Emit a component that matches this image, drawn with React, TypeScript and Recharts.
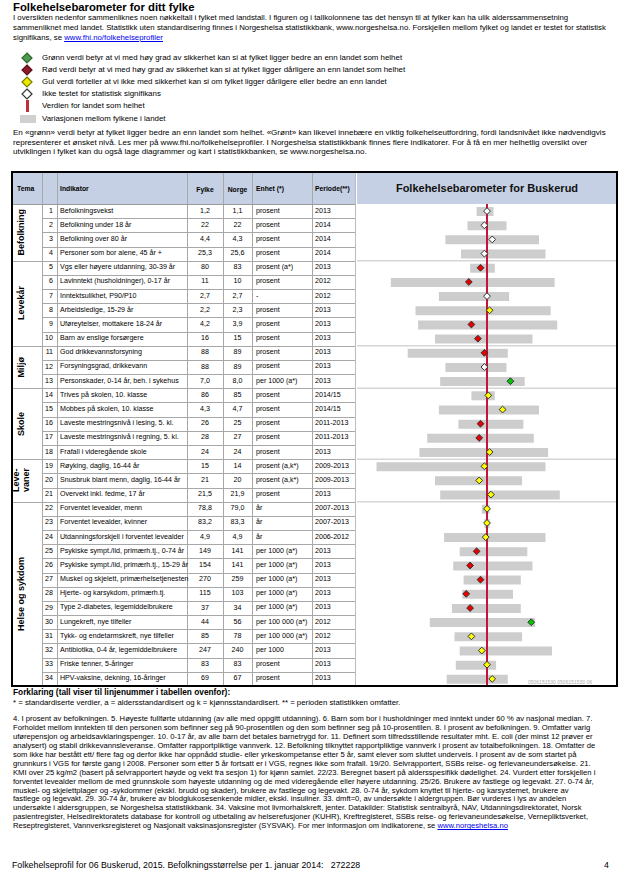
import React from "react";
import {
  ComposedChart,
  Bar,
  Line,
  XAxis,
  YAxis,
  ReferenceLine
} from "recharts";

// Table content
const indicators = [
  "Befolkningsvekst",
  "Befolkning under 18 år",
  "Befolkning over 80 år",
  "Personer som bor alene, 45 år +",
  "Vgs eller høyere utdanning, 30-39 år",
  "Lavinntekt (husholdninger), 0-17 år",
  "Inntektsulikhet, P90/P10",
  "Arbeidsledige, 15-29 år",
  "Uføreytelser, mottakere 18-24 år",
  "Barn av enslige forsørgere",
  "God drikkevannsforsyning",
  "Forsyningsgrad, drikkevann",
  "Personskader, 0-14 år, beh. i sykehus",
  "Trives på skolen, 10. klasse",
  "Mobbes på skolen, 10. klasse",
  "Laveste mestringsnivå i lesing, 5. kl.",
  "Laveste mestringsnivå i regning, 5. kl.",
  "Frafall i videregående skole",
  "Røyking, daglig, 16-44 år",
  "Snusbruk blant menn, daglig, 16-44 år",
  "Overvekt inkl. fedme, 17 år",
  "Forventet levealder, menn",
  "Forventet levealder, kvinner",
  "Utdanningsforskjell i forventet levealder",
  "Psykiske sympt./lid, primærh.tj., 0-74 år",
  "Psykiske sympt./lid, primærh.tj., 15-29 år",
  "Muskel og skjelett, primærhelsetjenesten",
  "Hjerte- og karsykdom, primærh.tj.",
  "Type 2-diabetes, legemiddelbrukere",
  "Lungekreft, nye tilfeller",
  "Tykk- og endetarmskreft, nye tilfeller",
  "Antibiotika, 0-4 år, legemiddelbrukere",
  "Friske tenner, 5-åringer",
  "HPV-vaksine, dekning, 16-åringer"
];

const fylkeValues = [
  "1,2", "22", "4,4", "25,3", "80", "11", "2,7", "2,2", "4,2", "16", "88", "88",
  "7,0", "86", "4,3", "26", "28", "24", "15", "21", "21,5", "78,8", "83,2", "4,9",
  "149", "154", "270", "115", "37", "44", "85", "247", "83", "69"
];

const norgeValues = [
  "1,1", "22", "4,3", "25,6", "83", "10", "2,7", "2,3", "3,9", "15", "89", "89",
  "8,0", "85", "4,7", "25", "27", "24", "14", "20", "21,9", "79,0", "83,3", "4,9",
  "141", "141", "259", "103", "34", "56", "78", "240", "83", "67"
];

const units = [
  "prosent", "prosent", "prosent", "prosent", "prosent (a*)", "prosent", "-",
  "prosent", "prosent", "prosent", "prosent", "prosent", "per 1000 (a*)",
  "prosent", "prosent", "prosent", "prosent", "prosent", "prosent (a,k*)",
  "prosent (a,k*)", "prosent", "år", "år", "år", "per 1000 (a*)",
  "per 1000 (a*)", "per 1000 (a*)", "per 1000 (a*)", "per 1000 (a*)",
  "per 100 000 (a*)", "per 100 000 (a*)", "per 1000", "prosent", "prosent"
];

const periods = [
  "2013", "2014", "2014", "2014", "2013", "2012", "2012", "2013", "2013", "2013",
  "2013", "2013", "2013", "2014/15", "2014/15", "2011-2013", "2011-2013", "2013",
  "2009-2013", "2009-2013", "2013", "2007-2013", "2007-2013", "2006-2012", "2013",
  "2013", "2013", "2013", "2013", "2012", "2012", "2013", "2013", "2013"
];

const groups = [
  { label: "Befolkning", from: 1, to: 4 },
  { label: "Levekår", from: 5, to: 10 },
  { label: "Miljø", from: 11, to: 13 },
  { label: "Skole", from: 14, to: 18 },
  { label: "Leve-\nvaner", from: 19, to: 21 },
  { label: "Helse og sykdom", from: 22, to: 34 }
];

// Barometer (standardised scale, landet = 0)
const rangeLow = [
  -8, -15, -32, -20, -13, -74, -37, -55, -53, -40, -61, -32, -36, -12, -37, -22, -46,
  -52, -85, -40, -36, -4, -2, -33, -21, -26, -18, -19, -27, -44, -25, -21, -24, -31
];
const rangeHigh = [
  5, 15, 40, 45, 6, 52, 17, 49, 54, 35, 16, 15, 29, 6, 40, 28, 36,
  47, 45, 27, 56, 2, 2, 45, 31, 35, 26, 20, 26, 37, 27, 50, 7, 16
];
const fylkePos = [
  0, -2, 4, -2, -5, -14, 0, 2, -12, -7, -2, -2, 18, 1, 12, -5, -6,
  2, -2, -6, 3, 0, 0, -1, -8, -13, -5, -16, -13, 34, -12, -4, 0, 4
];
// g = bedre, r = dårligere, y = ikke signifikant, w = ikke testet
const markType = [
  "w", "w", "w", "w", "r", "r", "w", "y", "r", "r", "r", "w", "g", "y", "y", "r", "r",
  "y", "y", "y", "y", "y", "y", "y", "r", "r", "r", "r", "r", "g", "y", "y", "y", "y"
];

const markColors: Record<string, string> = {
  g: "#00c800",
  r: "#e80000",
  y: "#ffff00",
  w: "#ffffff"
};

const topText = [
  "I oversikten nedenfor sammenliknes noen nøkkeltall i fylket med landstall. I figuren og i tallkolonnene tas det hensyn til at fylker kan ha ulik alderssammensetning",
  "sammenliknet med landet. Statistikk uten standardisering finnes i Norgeshelsa statistikkbank, www.norgeshelsa.no. Forskjellen mellom fylket og landet er testet for statistisk"
];

const legendTexts = [
  "Grønn verdi betyr at vi med høy grad av sikkerhet kan si at fylket ligger bedre an enn landet som helhet",
  "Rød verdi betyr at vi med høy grad av sikkerhet kan si at fylket ligger dårligere an enn landet som helhet",
  "Gul verdi forteller at vi ikke med sikkerhet kan si om fylket ligger dårligere eller bedre an enn landet",
  "Ikke testet for statistisk signifikans",
  "Verdien for landet som helhet",
  "Variasjonen mellom fylkene i landet"
];

const introText = [
  "En «grønn» verdi betyr at fylket ligger bedre an enn landet som helhet. «Grønt» kan likevel innebære en viktig folkehelseutfordring, fordi landsnivået ikke nødvendigvis",
  "representerer et ønsket nivå. Les mer på www.fhi.no/folkehelseprofiler. I Norgeshelsa statistikkbank finnes flere indikatorer. For å få en mer helhetlig oversikt over",
  "utviklingen i fylket kan du også lage diagrammer og kart i statistikkbanken, se www.norgeshelsa.no."
];

const notesText = [
  "4. I prosent av befolkningen. 5. Høyeste fullførte utdanning (av alle med oppgitt utdanning). 6. Barn som bor i husholdninger med inntekt under 60 % av nasjonal median. 7.",
  "Forholdet mellom inntekten til den personen som befinner seg på 90-prosentilen og den som befinner seg på 10-prosentilen. 8. I prosent av befolkningen. 9. Omfatter varig",
  "uførepensjon og arbeidsavklaringspenger. 10. 0-17 år, av alle barn det betales barnetrygd for. 11. Definert som tilfredsstillende resultater mht. E. coli (der minst 12 prøver er",
  "analysert) og stabil drikkevannsleveranse. Omfatter rapportpliktige vannverk. 12. Befolkning tilknyttet rapportpliktige vannverk i prosent av totalbefolkningen. 18. Omfatter de",
  "som ikke har bestått ett/ flere fag og derfor ikke har oppnådd studie- eller yrkeskompetanse etter 5 år, samt elever som sluttet underveis. I prosent av de som startet på",
  "grunnkurs i VGS for første gang i 2008. Personer som etter 5 år fortsatt er i VGS, regnes ikke som frafall. 19/20. Selvrapportert, SSBs reise- og ferievaneundersøkelse. 21.",
  "KMI over 25 kg/m2 (basert på selvrapportert høyde og vekt fra sesjon 1) for kjønn samlet. 22/23. Beregnet basert på aldersspesifikk dødelighet. 24. Vurdert etter forskjellen i",
  "forventet levealder mellom de med grunnskole som høyeste utdanning og de med videregående eller høyere utdanning. 25/26. Brukere av fastlege og legevakt. 27. 0-74 år,",
  "muskel- og skjelettplager og -sykdommer (ekskl. brudd og skader), brukere av fastlege og legevakt. 28. 0-74 år, sykdom knyttet til hjerte- og karsystemet, brukere av",
  "fastlege og legevakt. 29. 30-74 år, brukere av blodglukosesenkende midler, ekskl. insuliner. 33. dmft=0, av undersøkte i aldergruppen. Bør vurderes i lys av andelen",
  "undersøkte i aldersgruppen, se Norgeshelsa statistikkbank. 34. Vaksine mot livmorhalskreft, jenter. Datakilder: Statistisk sentralbyrå, NAV, Utdanningsdirektoratet, Norsk",
  "pasientregister, Helsedirektoratets database for kontroll og utbetaling av helserefusjoner (KUHR), Kreftregisteret, SSBs reise- og ferievaneundesøkelse, Vernepliktsverket,"
];

const FONT = "'Liberation Sans', Arial, sans-serif";
const TABLE_TOP = 204;
const TABLE_BOTTOM = 686;
const ROW_H = (TABLE_BOTTOM - TABLE_TOP) / indicators.length;
const CHART_LEFT = 357;
const CHART_W = 260;
const ROW_FONT = 7.1;
const TEXT_FONT = 7.8;
const NOTE_FONT = 7.65;

const colLines = [42, 57, 187, 223, 252, 312, 355];

const chartData = indicators.map((_, i) => ({
  nr: String(i + 1),
  range: [rangeLow[i], rangeHigh[i]],
  fylke: fylkePos[i],
  mark: markType[i]
}));

function Txt({ x, y, size, bold, children, color }: any) {
  return (
    <div
      style={{
        position: "absolute",
        left: x,
        top: y - size / 2,
        fontSize: size,
        lineHeight: `${size}px`,
        fontWeight: bold ? "bold" : "normal",
        whiteSpace: "nowrap",
        color: color || "#000"
      }}>
      {children}
    </div>
  );
}

function Diamond({ x, y, r, fill, stroke }: any) {
  return (
    <svg
      width={r * 2 + 2}
      height={r * 2 + 2}
      style={{ position: "absolute", left: x - r - 1, top: y - r - 1 }}>
      <polygon
        points={`${r + 1},1 ${2 * r + 1},${r + 1} ${r + 1},${2 * r + 1} 1,${r + 1}`}
        fill={fill}
        stroke={stroke}
        strokeWidth={1.2}
      />
    </svg>
  );
}

const renderMarker = (props: any) => {
  const { cx, cy, index, payload } = props;
  if (cx == null || cy == null) return <g key={`m-${index}`} />;
  const r = 3.4;
  return (
    <polygon
      key={`m-${index}`}
      points={`${cx},${cy - r} ${cx + r},${cy} ${cx},${cy + r} ${cx - r},${cy}`}
      fill={markColors[payload.mark]}
      stroke="#333"
      strokeWidth={1}
    />
  );
};

export default function App() {
  const legendY = [57.5, 69.8, 82, 94.2, 106.4, 118.6];
  return (
    <div
      style={{
        position: "relative",
        width: 625,
        height: 881,
        background: "#fff",
        fontFamily: FONT,
        overflow: "hidden"
      }}>
      <style>{`body{margin:0}`}</style>

      <Txt x={13} y={8} size={11.3} bold>
        Folkehelsebarometer for ditt fylke
      </Txt>
      {topText.map((t, i) => (
        <Txt key={i} x={13} y={17.5 + i * 10} size={TEXT_FONT}>
          {t}
        </Txt>
      ))}
      <Txt x={13} y={37.5} size={TEXT_FONT}>
        signifikans, se{" "}
        <span style={{ color: "#0000ee", textDecoration: "underline" }}>
          www.fhi.no/folkehelseprofiler
        </span>
      </Txt>

      {/* legend */}
      <Diamond x={27} y={legendY[0]} r={5} fill="#4f9a4f" stroke="#2d6a2d" />
      <Diamond x={27} y={legendY[1]} r={5} fill="#8e1b2c" stroke="#5a0f1a" />
      <Diamond x={27} y={legendY[2]} r={5} fill="#eaea00" stroke="#7a7a00" />
      <Diamond x={27} y={legendY[3]} r={5} fill="#ffffff" stroke="#333" />
      <div
        style={{
          position: "absolute",
          left: 26,
          top: legendY[4] - 6,
          width: 2.5,
          height: 12,
          background: "#c0303a"
        }}
      />
      <div
        style={{
          position: "absolute",
          left: 20,
          top: legendY[5] - 4,
          width: 16,
          height: 8,
          background: "#d0d0d0"
        }}
      />
      {legendTexts.map((t, i) => (
        <Txt key={i} x={42} y={legendY[i]} size={7.9}>
          {t}
        </Txt>
      ))}

      {introText.map((t, i) => (
        <Txt key={i} x={13} y={133.5 + i * 9.3} size={8.05}>
          {t}
        </Txt>
      ))}

      {/* table header */}
      <div
        style={{
          position: "absolute",
          left: 12,
          top: 172,
          width: 343,
          height: 32,
          background: "#c5d0e4"
        }}
      />
      <div
        style={{
          position: "absolute",
          left: CHART_LEFT,
          top: 172,
          width: CHART_W,
          height: 32,
          background: "#c5d0e4"
        }}
      />
      <Txt x={17} y={189} size={6.8} bold>Tema</Txt>
      <Txt x={60} y={189} size={6.8} bold>Indikator</Txt>
      <div style={{ position: "absolute", left: 187, width: 36, top: 185.5, fontSize: 6.8, lineHeight: "7px", fontWeight: "bold", textAlign: "center" }}>Fylke</div>
      <div style={{ position: "absolute", left: 223, width: 29, top: 185.5, fontSize: 6.8, lineHeight: "7px", fontWeight: "bold", textAlign: "center" }}>Norge</div>
      <Txt x={256} y={189} size={6.8} bold>Enhet (*)</Txt>
      <Txt x={315} y={189} size={6.8} bold>Periode(**)</Txt>
      <div
        style={{
          position: "absolute",
          left: CHART_LEFT,
          width: CHART_W,
          top: 182.5,
          fontSize: 11,
          lineHeight: "11px",
          fontWeight: "bold",
          textAlign: "center",
          color: "#111"
        }}>
        Folkehelsebarometer for Buskerud
      </div>

      {/* column lines */}
      {colLines.map((x) => (
        <div
          key={x}
          style={{
            position: "absolute",
            left: x,
            top: 172,
            width: 1,
            height: TABLE_BOTTOM - 172,
            background: x === 355 ? "#bbb" : "#a8a8a8"
          }}
        />
      ))}
      <div style={{ position: "absolute", left: 12, top: TABLE_TOP, width: 343, height: 1, background: "#999" }} />

      {/* rows */}
      {indicators.map((name, i) => {
        const top = TABLE_TOP + i * ROW_H;
        const cy = top + ROW_H / 2;
        const groupStart = groups.some((g) => g.from === i + 1);
        return (
          <React.Fragment key={i}>
            {i > 0 && (
              <div
                style={{
                  position: "absolute",
                  left: groupStart ? 12 : 42,
                  top: top,
                  width: groupStart ? 343 : 313,
                  height: 1,
                  background: "#a8a8a8"
                }}
              />
            )}
            <div
              style={{
                position: "absolute",
                left: 42,
                width: 11,
                top: cy - 3.5,
                fontSize: ROW_FONT,
                lineHeight: "7px",
                textAlign: "right"
              }}>
              {i + 1}
            </div>
            <Txt x={60} y={cy} size={ROW_FONT}>{name}</Txt>
            <div style={{ position: "absolute", left: 187, width: 36, top: cy - 3.5, fontSize: ROW_FONT, lineHeight: "7px", textAlign: "center" }}>
              {fylkeValues[i]}
            </div>
            <div style={{ position: "absolute", left: 223, width: 29, top: cy - 3.5, fontSize: ROW_FONT, lineHeight: "7px", textAlign: "center" }}>
              {norgeValues[i]}
            </div>
            <Txt x={256} y={cy} size={ROW_FONT}>{units[i]}</Txt>
            <Txt x={315} y={cy} size={ROW_FONT}>{periods[i]}</Txt>
          </React.Fragment>
        );
      })}

      {/* tema labels */}
      {groups.map((g) => {
        const top = TABLE_TOP + (g.from - 1) * ROW_H;
        const h = (g.to - g.from + 1) * ROW_H;
        return (
          <div
            key={g.label}
            style={{
              position: "absolute",
              left: 12,
              top,
              width: 18,
              height: h,
              display: "flex",
              alignItems: "center",
              justifyContent: "center"
            }}>
            <div
              style={{
                writingMode: "vertical-rl",
                transform: "rotate(180deg)",
                fontSize: 9,
                lineHeight: "10px",
                fontWeight: "bold",
                whiteSpace: "pre",
                textAlign: "center"
              }}>
              {g.label}
            </div>
          </div>
        );
      })}

      {/* barometer */}
      <div style={{ position: "absolute", left: CHART_LEFT, top: TABLE_TOP }}>
        <ComposedChart
          layout="vertical"
          width={CHART_W}
          height={TABLE_BOTTOM - TABLE_TOP}
          data={chartData}
          margin={{ top: 0, right: 0, bottom: 0, left: 0 }}>
          <XAxis type="number" domain={[-100, 100]} hide />
          <YAxis type="category" dataKey="nr" hide />
          {groups.slice(1).map((g) => (
            <ReferenceLine
              key={g.from}
              y={String(g.from)}
              position="start"
              stroke="#d6d6d6"
              strokeWidth={1.5}
            />
          ))}
          <Bar
            dataKey="range"
            fill="#cdcdcd"
            barSize={9}
            isAnimationActive={false}
          />
          <ReferenceLine x={0} stroke="#c3143a" strokeWidth={2} />
          <Line
            dataKey="fylke"
            stroke="none"
            dot={renderMarker}
            activeDot={false}
            isAnimationActive={false}
          />
        </ComposedChart>
      </div>
      <div
        style={{
          position: "absolute",
          left: 528,
          top: 680,
          width: 88,
          overflow: "hidden",
          whiteSpace: "nowrap",
          fontSize: 5,
          lineHeight: "5px",
          color: "#aaa"
        }}>
        0506151530 0506151530 06
      </div>

      {/* outer border */}
      <div
        style={{
          position: "absolute",
          left: 11,
          top: 171,
          width: 607,
          height: 516,
          border: "2px solid #000",
          boxSizing: "border-box"
        }}
      />

      <Txt x={13} y={692} size={8.3} bold>
        Forklaring (tall viser til linjenummer i tabellen ovenfor):
      </Txt>
      <Txt x={13} y={703} size={7.8}>
        * = standardiserte verdier, a = aldersstandardisert og k = kjønnsstandardisert. ** = perioden statistikken omfatter.
      </Txt>
      {notesText.map((t, i) => (
        <Txt key={i} x={13} y={719 + i * 8.92} size={NOTE_FONT}>
          {t}
        </Txt>
      ))}
      <Txt x={13} y={719 + 12 * 8.92} size={NOTE_FONT}>
        Reseptregisteret, Vannverksregisteret og Nasjonalt vaksinasjonsregister (SYSVAK). For mer informasjon om indikatorene, se{" "}
        <span style={{ color: "#0000ee", textDecoration: "underline" }}>www.norgeshelsa.no</span>
      </Txt>

      <Txt x={12} y={865} size={8.8}>
        Folkehelseprofil for 06 Buskerud, 2015. Befolkningsstørrelse per 1. januar 2014:&nbsp;&nbsp;&nbsp;272228
      </Txt>
      <Txt x={604} y={865} size={8.8}>4</Txt>
    </div>
  );
}
